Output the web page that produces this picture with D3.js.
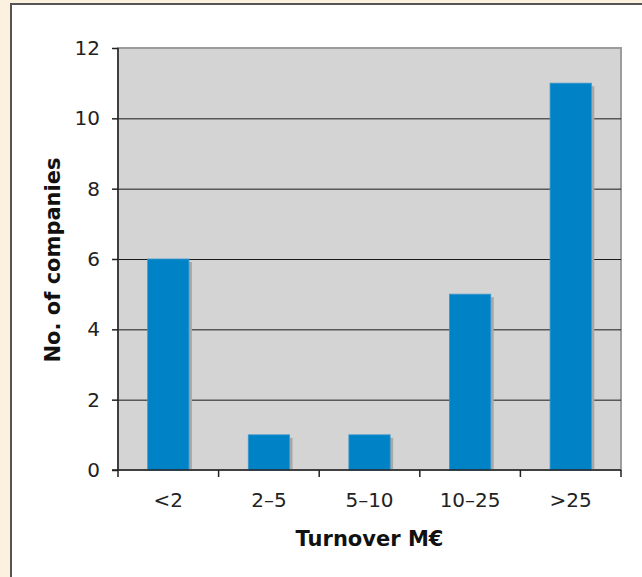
<!DOCTYPE html>
<html><head><meta charset="utf-8">
<script src="https://cdn.jsdelivr.net/npm/d3@7/dist/d3.min.js"></script>
<style>html,body{margin:0;padding:0;background:#fcf1de;}svg{display:block;}</style>
</head><body>
<svg id="chart" width="642" height="577"></svg>
<script>
const categories = ["<2", "2–5", "5–10", "10–25", ">25"];
const values = [6, 1, 1, 5, 11];
const yTicks = [0, 2, 4, 6, 8, 10, 12];
const xTitle = "Turnover M€";
const yTitle = "No. of companies";

const svg = d3.select("#chart");
const font = "'DejaVu Sans', Verdana, sans-serif";
// panel
svg.append("rect").attr("x", 11).attr("y", 4).attr("width", 640).attr("height", 580)
  .attr("fill", "#fff").attr("stroke", "#555").attr("stroke-width", 2);

const m = {l: 118, t: 48, r: 621, b: 470};
const x = d3.scaleBand().domain(categories).range([m.l, m.r]).paddingInner(0.59).paddingOuter(0.295);
const xb = d3.scaleBand().domain(categories).range([m.l, m.r]);
const y = d3.scaleLinear().domain([0, 12]).range([m.b, m.t]);

// plot bg
svg.append("rect").attr("x", m.l).attr("y", m.t).attr("width", m.r - m.l).attr("height", m.b - m.t)
  .attr("fill", "#d4d4d4").attr("stroke", "#9c9c9c").attr("stroke-width", 2);

// gridlines
svg.append("g").selectAll("line").data(yTicks.filter(d => d > 0 && d < 12)).join("line")
  .attr("x1", m.l).attr("x2", m.r).attr("y1", d => y(d) + 0.5).attr("y2", d => y(d) + 0.5)
  .attr("stroke", "#1a1a1a").attr("stroke-width", 1);

// shadows
svg.append("g").selectAll("rect").data(values).join("rect")
  .attr("x", (d, i) => x(categories[i]) + 3).attr("y", d => y(d) + 3)
  .attr("width", x.bandwidth()).attr("height", d => m.b - y(d) - 3)
  .attr("fill", "#a8a8a8");
// bars
svg.append("g").selectAll("rect").data(values).join("rect")
  .attr("x", (d, i) => x(categories[i])).attr("y", d => y(d))
  .attr("width", x.bandwidth()).attr("height", d => m.b - y(d))
  .attr("fill", "#0082c6").attr("stroke", "#3a97cc").attr("stroke-width", 0.8);

// y axis
const ya = svg.append("g").attr("transform", `translate(${m.l},0)`)
  .call(d3.axisLeft(y).tickValues(yTicks).tickSize(6).tickPadding(12));
ya.select(".domain").attr("stroke", "#222").attr("stroke-width", 1.5).attr("d", `M0,${m.t}V${m.b}`);
ya.selectAll(".tick line").attr("stroke", "#222").attr("stroke-width", 1.5);
ya.selectAll("text").attr("font-family", font).attr("font-size", 20).attr("fill", "#222");

// x axis
const xa = svg.append("g").attr("transform", `translate(0,${m.b})`)
  .call(d3.axisBottom(xb).tickSize(0).tickPadding(23));
xa.select(".domain").attr("stroke", "#222").attr("stroke-width", 1.5).attr("d", `M${m.l - 6},0H${m.r}`);
xa.selectAll("text").attr("font-family", font).attr("font-size", 20).attr("fill", "#222");
const bounds = categories.map(c => xb(c)).concat([m.r]);
svg.append("g").selectAll("line").data(bounds).join("line")
  .attr("x1", d => d).attr("x2", d => d).attr("y1", m.b).attr("y2", m.b + 7)
  .attr("stroke", "#222").attr("stroke-width", 1.5);

// titles
svg.append("text").attr("x", (m.l + m.r) / 2).attr("y", 546).attr("text-anchor", "middle")
  .attr("font-family", font).attr("font-weight", "bold").attr("font-size", 21).attr("fill", "#111").text(xTitle);
svg.append("text").attr("transform", `translate(60,${(m.t + m.b) / 2 + 1}) rotate(-90)`).attr("text-anchor", "middle")
  .attr("font-family", font).attr("font-weight", "bold").attr("font-size", 21).attr("fill", "#111").text(yTitle);
</script>
</body></html>
